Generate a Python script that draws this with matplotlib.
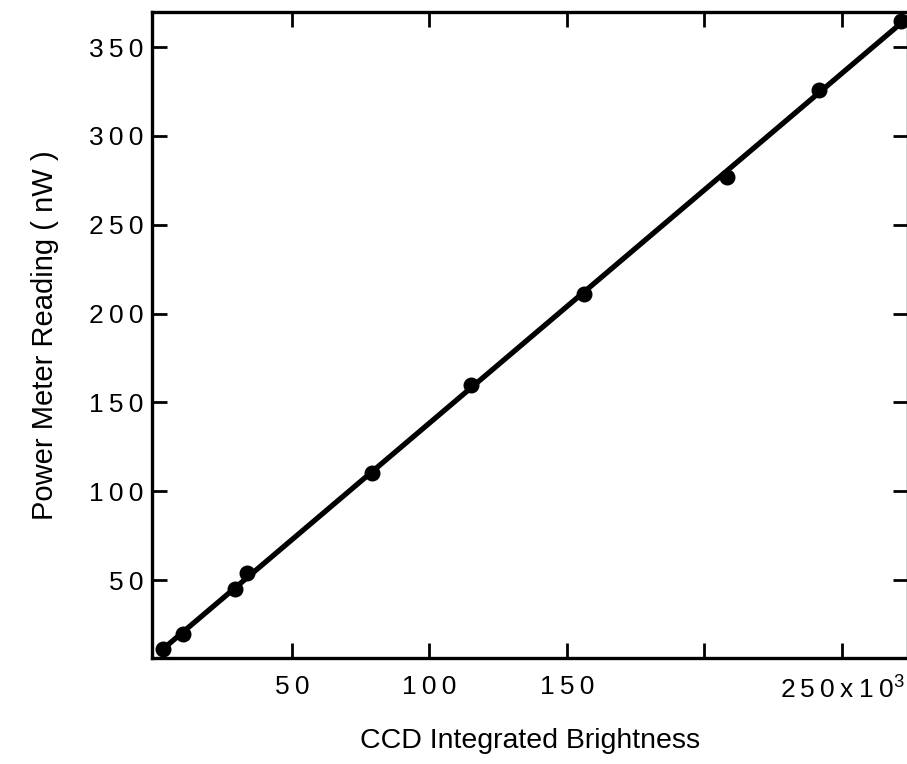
import numpy as np
import matplotlib
matplotlib.use("Agg")
import matplotlib.pyplot as plt

plt.rcParams['font.family'] = ['Liberation Sans', 'DejaVu Sans']
plt.rcParams['mathtext.fontset'] = 'custom'
plt.rcParams['mathtext.rm'] = 'Liberation Sans'

# CCD brightness (x10^3) vs power meter reading (nW)
ccd_brightness = [3.1, 10.4, 29.3, 33.6, 79.1, 115.1, 156.2, 208.2, 241.6, 271.5]
power_nw = [11.3, 19.7, 45.0, 54.0, 110.3, 159.8, 211.0, 276.9, 325.8, 364.7]

x_ticks = [50, 100, 150, 200, 250]
x_tick_labels = ['50', '100', '150', '', '250x10$^3$']
y_ticks = [50, 100, 150, 200, 250, 300, 350]


def spaced(s):
    # wide letter spacing on the digits
    if '$' in s:
        head, tail = s.split('$', 1)
        return '\u2009'.join(head) + '$' + tail
    return '\u2009'.join(s)


fig = plt.figure(figsize=(9.07, 7.64), dpi=100)
ax = fig.add_axes([152 / 907, 106 / 764, (908 - 152) / 907, (658 - 12) / 764])

x = np.array(ccd_brightness)
y = np.array(power_nw)
slope, icpt = np.polyfit(x, y, 1)
xf = np.array([1.3, 280])
ax.plot(xf, slope * xf + icpt, color='black', lw=3.8, solid_capstyle='butt')
ax.plot(x, y, 'o', color='black', ms=10.5)

ax.set_xlim(-0.9, 274)
ax.set_ylim(6.2, 369.7)

ax.set_xticks(x_ticks)
ax.set_xticklabels([spaced(s) for s in x_tick_labels])
ax.set_yticks(y_ticks)
ax.set_yticklabels([spaced(str(v)) for v in y_ticks])

ax.tick_params(direction='in', length=11, width=2, top=True, right=True,
               labelsize=19)
ax.tick_params(axis='x', pad=12)
ax.tick_params(axis='y', pad=6)
for sp in ax.spines.values():
    sp.set_linewidth(2.4)

ax.set_xlabel('CCD Integrated Brightness', fontsize=20.5, labelpad=18)
ax.set_ylabel('Power Meter Reading ( nW )', fontsize=21, labelpad=22)

fig.savefig('out.png', dpi=100)
